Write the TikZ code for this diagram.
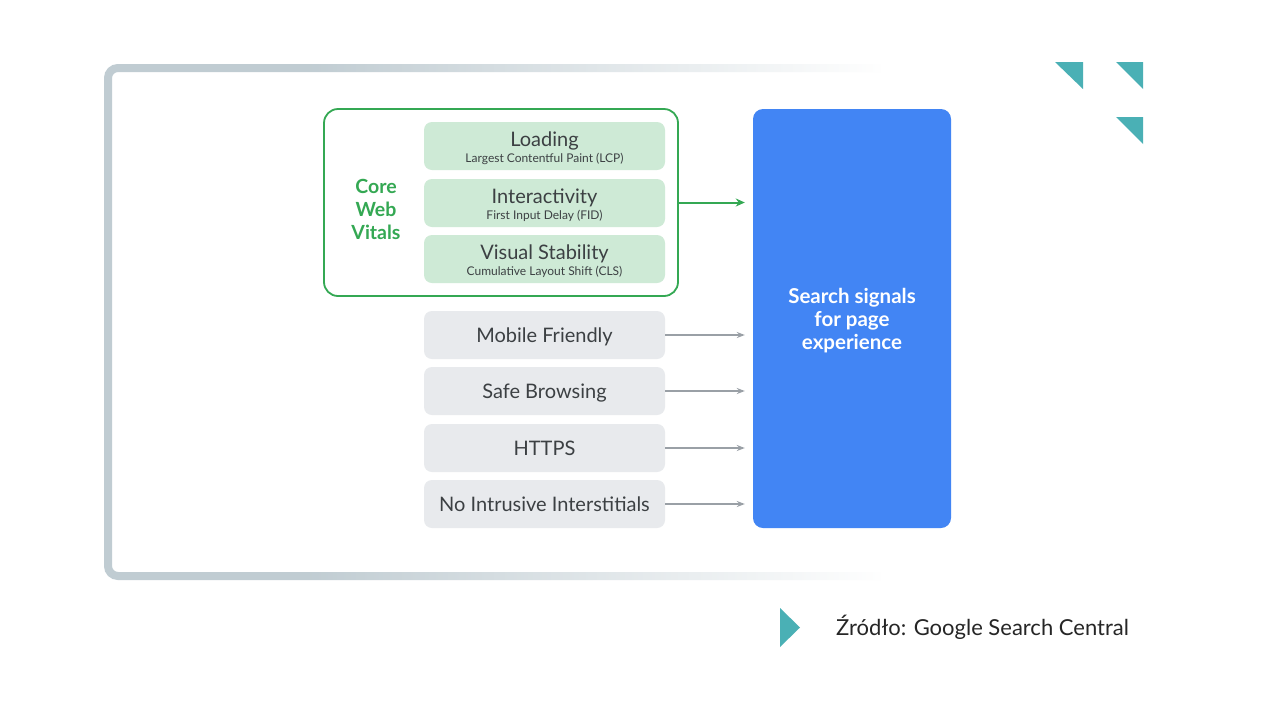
\documentclass[tikz,border=0pt]{standalone}
\usepackage{fontspec}
\setmainfont{Lato}
\usetikzlibrary{arrows.meta,positioning,fadings}
\definecolor{framecol}{RGB}{192,204,210}
\definecolor{teal}{RGB}{74,176,181}
\definecolor{gvgreen}{RGB}{52,168,83}
\definecolor{gvlight}{RGB}{206,234,214}
\definecolor{gvgray}{RGB}{232,234,237}
\definecolor{gvblue}{RGB}{66,133,244}
\definecolor{gvtext}{RGB}{60,64,67}
\definecolor{arrgray}{RGB}{154,160,166}
\tikzfading[name=fadeR, left color=transparent!100, right color=transparent!0]
\tikzset{
  greenbox/.style={fill=gvlight, rounded corners=8pt, minimum width=241pt, minimum height=48pt, inner sep=0pt},
  graybox/.style={fill=gvgray, rounded corners=8pt, minimum width=241pt, minimum height=48pt, inner sep=0pt, text=gvtext, font=\fontsize{20}{22}\selectfont, text height=18pt, text depth=4pt},
  titletext/.style={text=gvtext, font=\fontsize{20}{22}\selectfont, inner sep=0pt},
  subtext/.style={text=gvtext, font=\fontsize{12}{14}\selectfont, inner sep=0pt},
  garrow/.style={draw=gvgreen, line width=2pt, -{Stealth[length=9pt,width=8pt]}, shorten >=8pt},
  grarrow/.style={draw=arrgray, line width=1.4pt, -{Stealth[length=8pt,width=6pt]}, shorten >=8pt},
  tri/.style={fill=teal},
}
\begin{document}
\begin{tikzpicture}[x=1pt,y=-1pt]
\useasboundingbox (0,0) rectangle (1280,710);
\fill[white] (0,0) rectangle (1280,710);
% frame
\draw[line width=8pt, framecol, rounded corners=10pt] (880,68) -- (108,68) -- (108,576) -- (880,576);
\fill[white, path fading=fadeR] (300,62) rectangle (884,74);
\fill[white, path fading=fadeR] (300,570) rectangle (884,582);
% corner triangles
\fill[tri] (1055,62) -- (1083,62) -- (1083,89) -- cycle;
\fill[tri] (1116,62) -- (1143,62) -- (1143,89) -- cycle;
\fill[tri] (1116,117) -- (1143,117) -- (1143,144) -- cycle;
\fill[tri] (780,608) -- (800,627.5) -- (780,647) -- cycle;
\node[anchor=west, inner sep=0pt, text=black!85, font=\fontsize{22}{26}\selectfont] (src) at (836,627) {Źródło: Google Search Central};
% core web vitals group
\node[draw=gvgreen, line width=1.8pt, rounded corners=14pt, minimum width=354pt, minimum height=187pt, inner sep=0pt] (cwv) at (501,202.5) {};
\node[align=center, text=gvgreen, font=\bfseries\fontsize{19.5}{23}\selectfont, inner sep=0pt] (cwvlbl) at (376,209) {Core\\Web\\Vitals};
\node[greenbox] (load) at (544.5,146) {};
\node[titletext] (loadt) at (544.5,141) {Loading};
\node[subtext] (loads) at (544.5,159) {Largest Contentful Paint (LCP)};
\node[greenbox] (inter) at (544.5,203) {};
\node[titletext] (intert) at (544.5,198) {Interactivity};
\node[subtext] (inters) at (544.5,215.5) {First Input Delay (FID)};
\node[greenbox] (vis) at (544.5,259) {};
\node[titletext] (vist) at (544.5,254) {Visual Stability};
\node[subtext] (viss) at (544.5,272) {Cumulative Layout Shift (CLS)};
% blue box
\node[fill=gvblue, rounded corners=10pt, minimum width=198pt, minimum height=419pt, inner sep=0pt] (blue) at (852,318.5) {};
\node[align=center, text=white, font=\bfseries\fontsize{20.5}{23}\selectfont, inner sep=0pt] (bluet) at (852,321) {Search signals\\for page\\experience};
% gray boxes
\node[graybox] (mf) at (544.5,335) {Mobile Friendly};
\node[graybox] (sb) at (544.5,391) {Safe Browsing};
\node[graybox] (https) at (544.5,448) {HTTPS};
\node[graybox] (nii) at (544.5,504) {No Intrusive Interstitials};
% arrows
\draw[garrow] (cwv.east) -- (cwv.east -| blue.west);
\draw[grarrow] (mf.east) -- (mf.east -| blue.west);
\draw[grarrow] (sb.east) -- (sb.east -| blue.west);
\draw[grarrow] (https.east) -- (https.east -| blue.west);
\draw[grarrow] (nii.east) -- (nii.east -| blue.west);
\end{tikzpicture}
\end{document}
